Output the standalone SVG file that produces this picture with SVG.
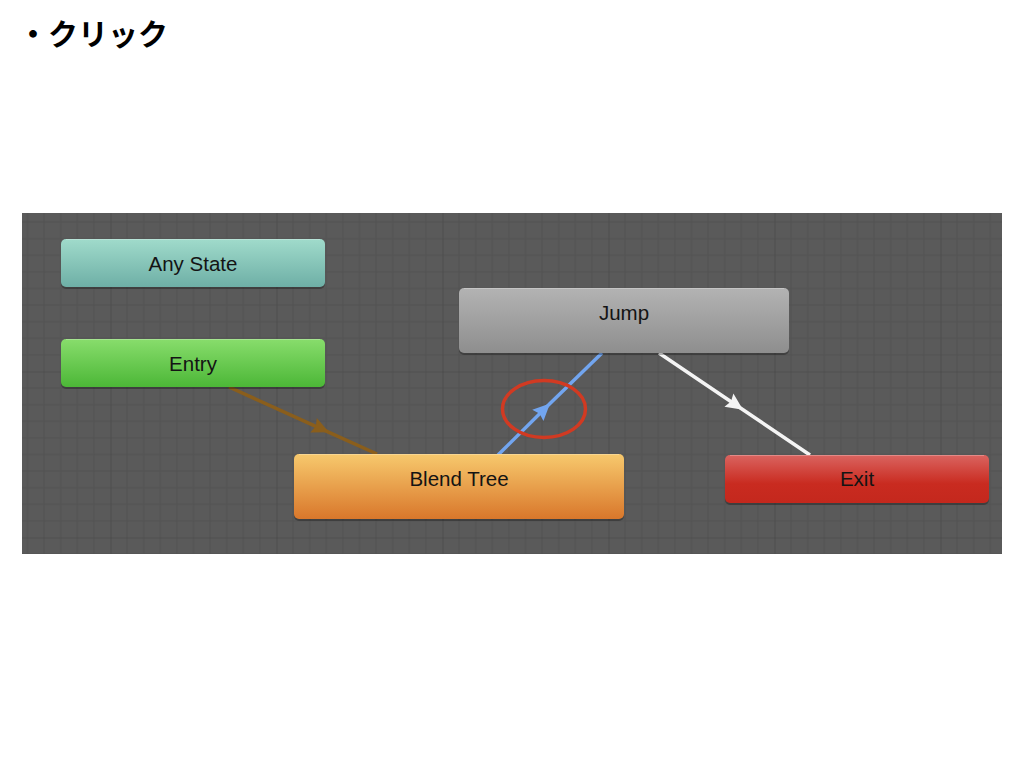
<svg xmlns="http://www.w3.org/2000/svg" width="1024" height="768" viewBox="0 0 1024 768">
<style>
.title{font-family:"Noto Sans CJK JP","Noto Sans",sans-serif;font-weight:700;font-size:30px;fill:#000}
.lbl{font-family:"Liberation Sans",Arial,sans-serif;font-size:20.5px;fill:#141414;text-anchor:middle}
.shadow{fill:#000;opacity:0.28}
.hl{fill:none;stroke:#fff;stroke-opacity:0.25;stroke-width:1}
.conn{fill:none;stroke-width:3.5}
</style>
<defs>
<pattern id="grid" patternUnits="userSpaceOnUse" x="110.5" y="371.5" width="166" height="166">
<path d="M16.6,0V166M33.2,0V166M49.8,0V166M66.4,0V166M83,0V166M99.6,0V166M116.2,0V166M132.8,0V166M149.4,0V166M0,16.6H166M0,33.2H166M0,49.8H166M0,66.4H166M0,83H166M0,99.6H166M0,116.2H166M0,132.8H166M0,149.4H166" stroke="#525252" stroke-width="1"/>
<path d="M0,0V166M0,0H166" stroke="#464646" stroke-width="1.2"/>
</pattern>
<linearGradient id="gAny" x1="0" y1="0" x2="0" y2="1"><stop offset="0" stop-color="#a0dbcb"/><stop offset="1" stop-color="#6eafa6"/></linearGradient>
<linearGradient id="gEntry" x1="0" y1="0" x2="0" y2="1"><stop offset="0" stop-color="#88dd6c"/><stop offset="1" stop-color="#4cb737"/></linearGradient>
<linearGradient id="gJump" x1="0" y1="0" x2="0" y2="1"><stop offset="0" stop-color="#b3b3b3"/><stop offset="1" stop-color="#8e8e8e"/></linearGradient>
<linearGradient id="gBlend" x1="0" y1="0" x2="0" y2="1"><stop offset="0" stop-color="#f7c96d"/><stop offset="1" stop-color="#d9772b"/></linearGradient>
<linearGradient id="gExit" x1="0" y1="0" x2="0" y2="1"><stop offset="0" stop-color="#da6460"/><stop offset="0.6" stop-color="#c92b20"/><stop offset="1" stop-color="#c4281d"/></linearGradient>
<marker id="aBrown" markerUnits="userSpaceOnUse" markerWidth="20" markerHeight="18" refX="17" refY="8" orient="auto" overflow="visible"><path d="M0,0 L17,8 L0,16 L2.5,8 Z" fill="#8a5e1c"/></marker>
<marker id="aBlue" markerUnits="userSpaceOnUse" markerWidth="20" markerHeight="18" refX="17" refY="8" orient="auto" overflow="visible"><path d="M0,0 L17,8 L0,16 L2.5,8 Z" fill="#72a5ef"/></marker>
<marker id="aWhite" markerUnits="userSpaceOnUse" markerWidth="20" markerHeight="18" refX="17" refY="8" orient="auto" overflow="visible"><path d="M0,0 L17,8 L0,16 L2.5,8 Z" fill="#f4f4f4"/></marker>
</defs>
<rect width="1024" height="768" fill="#fff"/>
<text class="title" x="18" y="45">・クリック</text>
<g id="canvas">
<rect x="22" y="213" width="980" height="341" fill="#5a5a5a"/>
<rect x="22" y="213" width="980" height="341" fill="url(#grid)"/>
</g>
<g id="connectors">
<path class="conn" d="M229,387 L329,432.3 L377,454" stroke="#8a5e1c" marker-mid="url(#aBrown)"/>
<path class="conn" d="M498,455 L550,403.5 L602,353" stroke="#72a5ef" stroke-width="3" marker-mid="url(#aBlue)"/>
<path class="conn" d="M659,353 L743,409.7 L810,455" stroke="#f4f4f4" marker-mid="url(#aWhite)"/>
</g>
<g id="node-anystate">
<rect class="shadow" x="61" y="241" width="264" height="48" rx="5"/>
<rect x="61" y="239" width="264" height="48" rx="5" fill="url(#gAny)"/>
<path class="hl" d="M66,239.5 H320"/>
<text class="lbl" x="193" y="271">Any State</text>
</g>
<g id="node-entry">
<rect class="shadow" x="61" y="341" width="264" height="48" rx="5"/>
<rect x="61" y="339" width="264" height="48" rx="5" fill="url(#gEntry)"/>
<path class="hl" d="M66,339.5 H320"/>
<text class="lbl" x="193" y="371">Entry</text>
</g>
<g id="node-jump">
<rect class="shadow" x="459" y="290" width="330" height="65" rx="5"/>
<rect x="459" y="288" width="330" height="65" rx="5" fill="url(#gJump)"/>
<path class="hl" d="M464,288.5 H784"/>
<text class="lbl" x="624" y="320">Jump</text>
</g>
<g id="node-blendtree">
<rect class="shadow" x="294" y="456" width="330" height="65" rx="5"/>
<rect x="294" y="454" width="330" height="65" rx="5" fill="url(#gBlend)"/>
<path class="hl" d="M299,454.5 H619"/>
<text class="lbl" x="459" y="486">Blend Tree</text>
</g>
<g id="node-exit">
<rect class="shadow" x="725" y="457" width="264" height="48" rx="5"/>
<rect x="725" y="455" width="264" height="48" rx="5" fill="url(#gExit)"/>
<path class="hl" d="M730,455.5 H984"/>
<text class="lbl" x="857" y="486">Exit</text>
</g>
<g id="highlight">
<ellipse cx="544" cy="409" rx="41.5" ry="28.5" fill="none" stroke="#d13a22" stroke-width="3.5"/>
</g>
</svg>
